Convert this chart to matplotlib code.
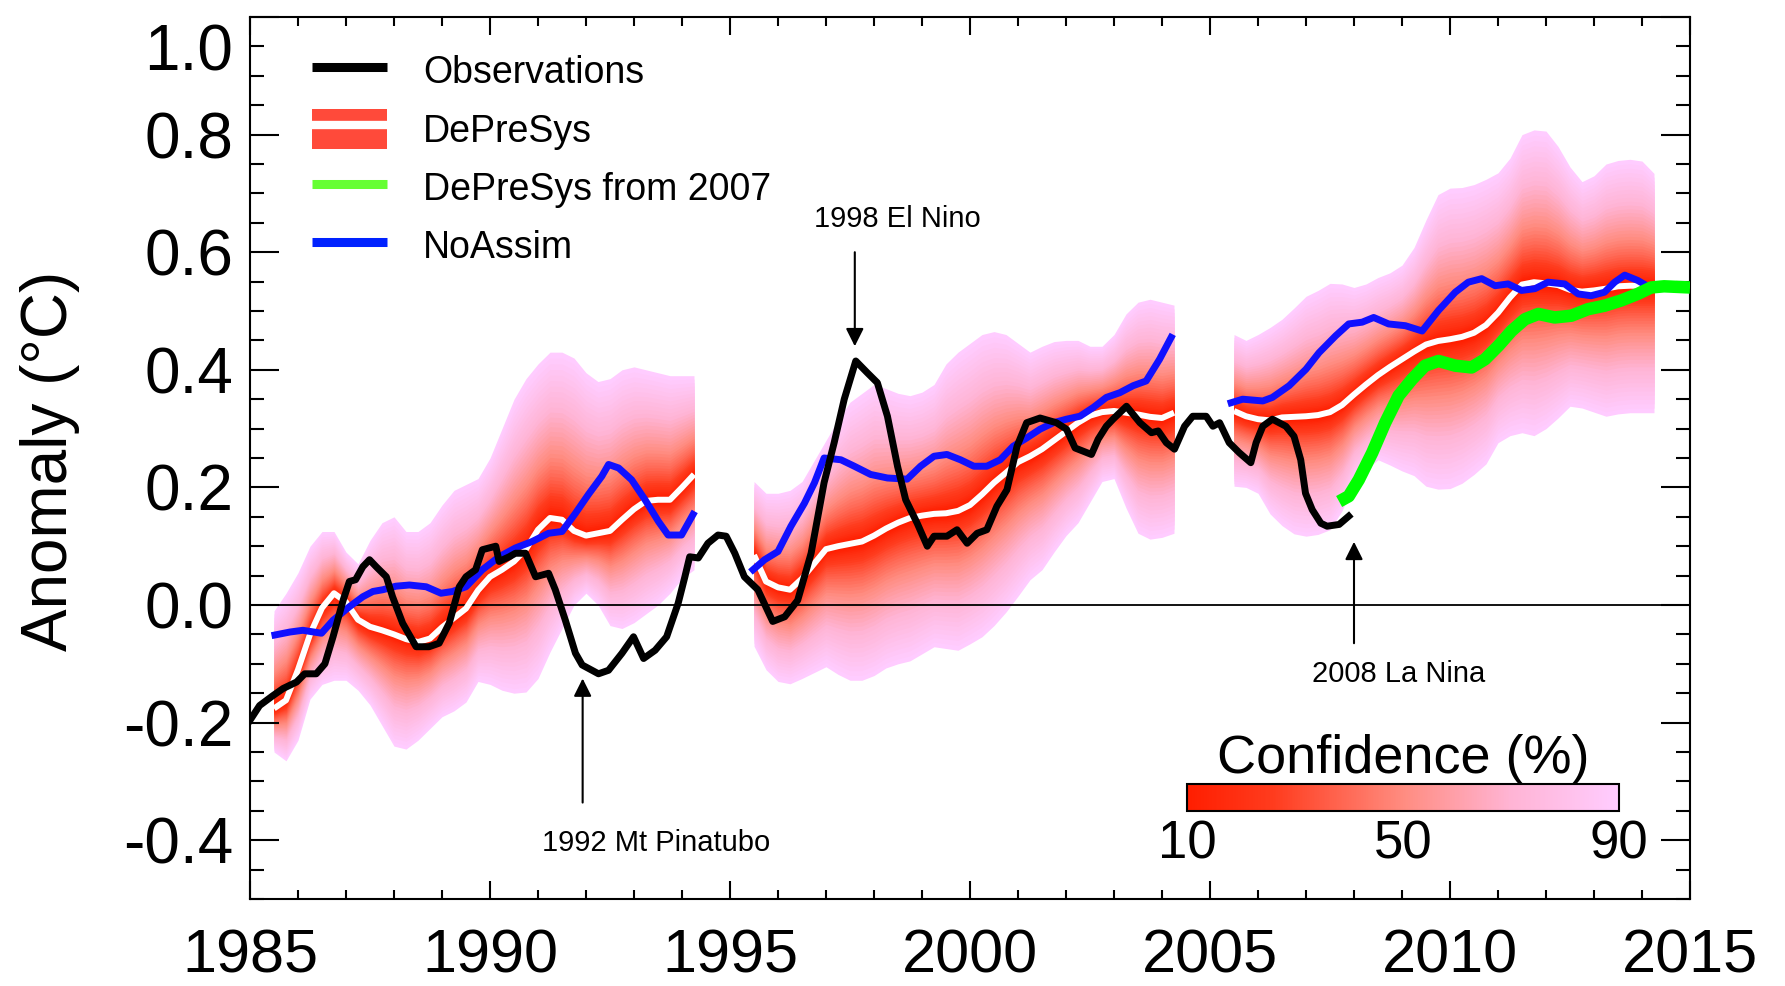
import numpy as np
import matplotlib
matplotlib.use('Agg')
import matplotlib.pyplot as plt
from matplotlib.colors import LinearSegmentedColormap, Normalize
from matplotlib.cm import ScalarMappable
from matplotlib.lines import Line2D
from matplotlib.patches import Patch
from matplotlib.legend_handler import HandlerTuple
from matplotlib.ticker import MultipleLocator, FuncFormatter

plt.rcParams['font.family'] = ['Liberation Sans', 'DejaVu Sans']
plt.rcParams['axes.unicode_minus'] = False

# --- Observations (black) ---
obs_year = [1985.0, 1985.2, 1985.48, 1985.69, 1985.97, 1986.14, 1986.38, 1986.56, 1986.73, 1986.94,
            1987.07, 1987.2, 1987.35, 1987.49, 1987.63, 1987.84, 1987.97, 1988.18, 1988.46, 1988.73,
            1988.94, 1989.15, 1989.36, 1989.5, 1989.7, 1989.84, 1990.12, 1990.19, 1990.4, 1990.53,
            1990.74, 1990.95, 1991.22, 1991.36, 1991.57, 1991.78, 1991.92, 1992.26, 1992.47, 1992.75,
            1992.99, 1993.2, 1993.44, 1993.68, 1993.92, 1994.06, 1994.16, 1994.34, 1994.54, 1994.75,
            1994.92, 1995.1, 1995.3, 1995.58, 1995.89, 1996.14, 1996.41, 1996.69, 1996.96, 1997.17,
            1997.38, 1997.62, 1997.86, 1998.07, 1998.28, 1998.49, 1998.66, 1998.9, 1999.11, 1999.25,
            1999.52, 1999.73, 1999.94, 2000.15, 2000.35, 2000.56, 2000.77, 2000.98, 2001.18, 2001.46,
            2001.8, 2002.01, 2002.19, 2002.53, 2002.67, 2002.84, 2002.98, 2003.26, 2003.54, 2003.78,
            2003.92, 2004.09, 2004.26, 2004.47, 2004.64, 2004.92, 2005.06, 2005.2, 2005.4, 2005.61,
            2005.85, 2005.96, 2006.1, 2006.3, 2006.58, 2006.75, 2006.89, 2006.99, 2007.13, 2007.31,
            2007.44, 2007.69, 2007.89]
obs_anom = [-0.196, -0.171, -0.154, -0.142, -0.131, -0.117, -0.117, -0.100, -0.054, 0.008,
            0.040, 0.043, 0.065, 0.077, 0.065, 0.048, 0.014, -0.031, -0.071, -0.071,
            -0.065, -0.031, 0.031, 0.048, 0.060, 0.094, 0.100, 0.074, 0.082, 0.088,
            0.088, 0.048, 0.054, 0.026, -0.026, -0.082, -0.102, -0.117, -0.111, -0.082,
            -0.054, -0.091, -0.077, -0.054, 0.003, 0.048, 0.082, 0.080, 0.105, 0.119,
            0.117, 0.088, 0.048, 0.026, -0.028, -0.020, 0.008, 0.088, 0.208, 0.276,
            0.350, 0.415, 0.395, 0.378, 0.321, 0.236, 0.179, 0.139, 0.100, 0.117,
            0.117, 0.128, 0.105, 0.122, 0.128, 0.168, 0.196, 0.270, 0.310, 0.318,
            0.310, 0.299, 0.267, 0.256, 0.282, 0.304, 0.316, 0.338, 0.310, 0.293,
            0.296, 0.276, 0.265, 0.304, 0.321, 0.321, 0.304, 0.310, 0.276, 0.259,
            0.242, 0.276, 0.304, 0.316, 0.304, 0.287, 0.247, 0.190, 0.162, 0.139,
            0.134, 0.137, 0.151]

# --- NoAssim (blue), NaN separates the three hindcasts ---
noassim_year = [1985.52, 1985.83, 1986.1, 1986.49, 1986.73, 1987.07, 1987.35, 1987.56, 1987.77, 1988.04,
                1988.32, 1988.67, 1988.98, 1989.22, 1989.5, 1989.84, 1990.19, 1990.53, 1990.88, 1991.22,
                1991.5, 1991.78, 1992.05, 1992.33, 1992.47, 1992.68, 1992.95, 1993.23, 1993.51, 1993.71,
                1993.99, 1994.23, np.nan,
                1995.48, 1995.72, 1996.0, 1996.27, 1996.55, 1996.76, 1996.96, 1997.31, 1997.59, 1997.93,
                1998.28, 1998.69, 1998.97, 1999.25, 1999.52, 1999.8, 2000.08, 2000.35, 2000.63, 2000.9,
                2001.18, 2001.46, 2001.74, 2002.01, 2002.29, 2002.57, 2002.84, 2003.12, 2003.4, 2003.67,
                2003.95, 2004.19, np.nan,
                2005.44, 2005.68, 2006.1, 2006.3, 2006.65, 2007.0, 2007.27, 2007.62, 2007.89, 2008.17,
                2008.41, 2008.72, 2009.07, 2009.42, 2009.76, 2010.11, 2010.38, 2010.66, 2010.94, 2011.21,
                2011.49, 2011.77, 2012.04, 2012.39, 2012.67, 2012.94, 2013.22, 2013.43, 2013.64, 2013.91,
                2014.12]
noassim_anom = [-0.051, -0.046, -0.043, -0.048, -0.026, -0.003, 0.014, 0.023, 0.026, 0.032,
                0.034, 0.031, 0.020, 0.023, 0.031, 0.060, 0.082, 0.097, 0.108, 0.122,
                0.125, 0.156, 0.188, 0.219, 0.239, 0.233, 0.213, 0.179, 0.142, 0.119,
                0.119, 0.154, np.nan,
                0.060, 0.077, 0.091, 0.134, 0.173, 0.208, 0.250, 0.247, 0.236, 0.222,
                0.216, 0.214, 0.236, 0.253, 0.256, 0.247, 0.236, 0.236, 0.247, 0.270,
                0.284, 0.299, 0.310, 0.316, 0.321, 0.336, 0.353, 0.361, 0.373, 0.381,
                0.418, 0.455, np.nan,
                0.344, 0.350, 0.347, 0.353, 0.373, 0.401, 0.429, 0.458, 0.478, 0.481,
                0.489, 0.478, 0.475, 0.466, 0.501, 0.532, 0.549, 0.555, 0.543, 0.546,
                0.535, 0.538, 0.549, 0.546, 0.529, 0.526, 0.532, 0.549, 0.561, 0.552,
                0.542]

# --- DePreSys from 2007 (green) ---
dp07_year = [2007.69, 2007.89, 2008.1, 2008.38, 2008.65, 2008.93, 2009.21, 2009.48, 2009.76, 2010.11,
             2010.45, 2010.73, 2011.01, 2011.28, 2011.56, 2011.84, 2012.18, 2012.53, 2012.87, 2013.22,
             2013.57, 2013.91, 2014.19, 2014.46, 2015.0]
dp07_anom = [0.176, 0.185, 0.213, 0.259, 0.310, 0.356, 0.384, 0.407, 0.415, 0.407,
             0.404, 0.418, 0.441, 0.466, 0.486, 0.495, 0.489, 0.492, 0.503, 0.509,
             0.518, 0.529, 0.540, 0.542, 0.540]

# --- DePreSys hindcasts: mean and 90% range, quarterly from each start ---
dp_start = [1985.5, 1995.5, 2005.5]
dp_step = 0.25
dp_mean_85 = [-0.176, -0.162, -0.110, -0.050, -0.005, 0.020, 0.005, -0.025, -0.037, -0.043,
              -0.050, -0.058, -0.063, -0.057, -0.038, -0.022, -0.006, 0.025, 0.048, 0.060,
              0.074, 0.095, 0.128, 0.148, 0.145, 0.126, 0.118, 0.122, 0.126, 0.145,
              0.163, 0.177, 0.179, 0.179, 0.200, 0.222]
dp_hi_85 = [-0.010, 0.020, 0.055, 0.100, 0.125, 0.125, 0.090, 0.070, 0.110, 0.140,
            0.150, 0.125, 0.125, 0.140, 0.170, 0.195, 0.205, 0.215, 0.250, 0.300,
            0.350, 0.385, 0.410, 0.430, 0.430, 0.420, 0.395, 0.380, 0.385, 0.400,
            0.405, 0.400, 0.395, 0.390, 0.390, 0.390]
dp_lo_85 = [-0.250, -0.265, -0.230, -0.160, -0.135, -0.128, -0.128, -0.145, -0.170, -0.205,
            -0.240, -0.245, -0.230, -0.210, -0.190, -0.180, -0.165, -0.130, -0.135, -0.145,
            -0.150, -0.148, -0.125, -0.080, -0.040, 0.000, 0.020, 0.000, -0.035, -0.040,
            -0.030, -0.015, 0.000, 0.020, 0.045, 0.060]
dp_mean_95 = [0.085, 0.040, 0.030, 0.026, 0.045, 0.070, 0.095, 0.100, 0.104, 0.108,
              0.118, 0.130, 0.140, 0.148, 0.152, 0.155, 0.156, 0.160, 0.170, 0.188,
              0.208, 0.225, 0.243, 0.253, 0.265, 0.280, 0.295, 0.310, 0.322, 0.328,
              0.330, 0.327, 0.324, 0.320, 0.318, 0.327]
dp_hi_95 = [0.210, 0.190, 0.190, 0.195, 0.210, 0.245, 0.280, 0.315, 0.345, 0.360,
            0.375, 0.368, 0.360, 0.356, 0.362, 0.375, 0.410, 0.430, 0.445, 0.460,
            0.465, 0.460, 0.445, 0.430, 0.440, 0.448, 0.450, 0.450, 0.440, 0.440,
            0.460, 0.495, 0.515, 0.520, 0.515, 0.510]
dp_lo_95 = [-0.070, -0.110, -0.130, -0.134, -0.125, -0.115, -0.105, -0.118, -0.128, -0.128,
            -0.120, -0.107, -0.100, -0.095, -0.083, -0.071, -0.074, -0.077, -0.066, -0.054,
            -0.035, -0.012, 0.015, 0.043, 0.060, 0.090, 0.118, 0.140, 0.175, 0.210,
            0.215, 0.165, 0.122, 0.112, 0.115, 0.122]
dp_mean_05 = [0.330, 0.321, 0.316, 0.314, 0.319, 0.320, 0.321, 0.323, 0.328, 0.340,
              0.358, 0.375, 0.391, 0.405, 0.418, 0.431, 0.443, 0.449, 0.452, 0.456,
              0.463, 0.476, 0.497, 0.523, 0.545, 0.549, 0.547, 0.544, 0.536, 0.533,
              0.535, 0.538, 0.542, 0.543, 0.543, 0.543]
dp_hi_05 = [0.460, 0.450, 0.460, 0.472, 0.486, 0.505, 0.525, 0.535, 0.547, 0.546,
            0.540, 0.546, 0.557, 0.565, 0.578, 0.608, 0.655, 0.698, 0.709, 0.710,
            0.715, 0.724, 0.735, 0.760, 0.800, 0.808, 0.806, 0.780, 0.745, 0.720,
            0.730, 0.750, 0.756, 0.758, 0.755, 0.734]
dp_lo_05 = [0.202, 0.200, 0.190, 0.155, 0.135, 0.121, 0.117, 0.120, 0.128, 0.160,
            0.208, 0.230, 0.247, 0.238, 0.228, 0.220, 0.202, 0.197, 0.198, 0.207,
            0.222, 0.240, 0.276, 0.288, 0.293, 0.288, 0.300, 0.318, 0.338, 0.335,
            0.328, 0.321, 0.325, 0.327, 0.327, 0.327]

conf_ticks = [10, 50, 90]

# --- figure ---
fig = plt.figure(figsize=(17.85, 9.86), dpi=100)
ax = fig.add_axes([250 / 1785, 1 - 899 / 986, 1440 / 1785, 882 / 986])

conf_cmap = LinearSegmentedColormap.from_list(
    'conf', [(0.0, '#ff1e00'), (0.2, '#ff3c1e'), (0.5, '#ff8c80'), (0.75, '#ffb4d4'), (1.0, '#ffccff')])
conf_norm = Normalize(10, 90)

segments = [(dp_mean_85, dp_lo_85, dp_hi_85), (dp_mean_95, dp_lo_95, dp_hi_95), (dp_mean_05, dp_lo_05, dp_hi_05)]
for start, (mean, lo, hi) in zip(dp_start, segments):
    mean, lo, hi = np.array(mean), np.array(lo), np.array(hi)
    yrs = start + dp_step * np.arange(len(mean))
    # shade from the 90% envelope inwards; inner ranges shrink roughly like a normal spread
    for p in np.linspace(90, 0, 46):
        f = (p / 90.0) ** 1.6
        ax.fill_between(yrs, mean - f * (mean - lo), mean + f * (hi - mean),
                        color=conf_cmap(conf_norm(max(p, 10))), lw=0, zorder=1)
    ax.plot(yrs, mean, color='white', lw=4.3, solid_capstyle='butt', zorder=3)

ax.axhline(0, color='black', lw=1.3, zorder=2)
ax.plot(noassim_year, noassim_anom, color='#1010ff', lw=5, zorder=4)
ax.plot(dp07_year, dp07_anom, color='#00ff00', lw=9, solid_capstyle='butt', zorder=4)
ax.plot(obs_year, obs_anom, color='black', lw=5, zorder=5)

# --- annotations ---
arrow = dict(arrowstyle='-|>', color='black', lw=1.5, mutation_scale=27, shrinkA=0, shrinkB=0)
ax.annotate('', xy=(1997.6, 0.44), xytext=(1997.6, 0.60), arrowprops=arrow)
ax.text(1998.48, 0.657, '1998 El Nino', fontsize=21, ha='center', va='center')
ax.annotate('', xy=(1991.93, -0.125), xytext=(1991.93, -0.336), arrowprops=arrow)
ax.text(1993.46, -0.404, '1992 Mt Pinatubo', fontsize=21, ha='center', va='center')
ax.annotate('', xy=(2008.0, 0.1075), xytext=(2008.0, -0.065), arrowprops=arrow)
ax.text(2008.94, -0.118, '2008 La Nina', fontsize=21, ha='center', va='center')

# --- axes ---
ax.set_xlim(1985, 2015)
ax.set_ylim(-0.5, 1.0)
ax.xaxis.set_major_locator(MultipleLocator(5))
ax.xaxis.set_minor_locator(MultipleLocator(1))
ax.yaxis.set_major_locator(MultipleLocator(0.2))
ax.yaxis.set_minor_locator(MultipleLocator(0.05))


def ylab(v, _):
    if abs(v - 1.0) < 1e-9:
        return ''  # drawn separately, dropped below the top edge
    return f'{0.0 if abs(v) < 1e-9 else v:.1f}'


ax.yaxis.set_major_formatter(FuncFormatter(ylab))
ax.tick_params(which='both', direction='in', top=True, right=True, width=1.5)
ax.tick_params(axis='y', which='major', length=21, pad=12, labelsize=46)
ax.tick_params(axis='y', which='minor', length=10)
ax.tick_params(axis='x', which='major', length=13, pad=21, labelsize=44)
ax.tick_params(axis='x', which='minor', length=6.5)
ax.annotate('1.0', xy=(0, 1.0), xycoords=('axes fraction', 'data'), xytext=(-12, -5),
            textcoords='offset points', ha='right', va='top', fontsize=46, annotation_clip=False)
for s in ax.spines.values():
    s.set_linewidth(1.5)
ax.set_ylabel('Anomaly (°C)', fontsize=46)
ax.yaxis.set_label_coords(-0.118, 0.497)

# --- legend ---
handles = [Line2D([], [], color='black', lw=6.5, solid_capstyle='butt'),
           (Patch(facecolor='#ff4a3a', edgecolor='none'),
            Line2D([], [], color='white', lw=6, solid_capstyle='butt')),
           Line2D([], [], color='#66ff33', lw=6.5, solid_capstyle='butt'),
           Line2D([], [], color='#0022ff', lw=6.5, solid_capstyle='butt')]
labels = ['Observations', 'DePreSys', 'DePreSys from 2007', 'NoAssim']
ax.legend(handles, labels, loc='upper left', bbox_to_anchor=(62 / 1440, 0.962), frameon=False,
          fontsize=27, handlelength=2.0, handleheight=1.28, handletextpad=0.96,
          labelspacing=0.47, borderpad=0, borderaxespad=0,
          handler_map={tuple: HandlerTuple(ndivide=1, pad=0)})

# --- confidence colour bar ---
cax = fig.add_axes([1187 / 1785, 1 - 811 / 986, 432 / 1785, 27 / 986])
cb = fig.colorbar(ScalarMappable(norm=conf_norm, cmap=conf_cmap), cax=cax,
                  orientation='horizontal', ticks=conf_ticks)
cb.ax.tick_params(length=0, labelsize=38, pad=6)
cb.outline.set_linewidth(1.5)
cax.set_title('Confidence (%)', fontsize=39, pad=-2)

fig.savefig('out.png', dpi=100)
